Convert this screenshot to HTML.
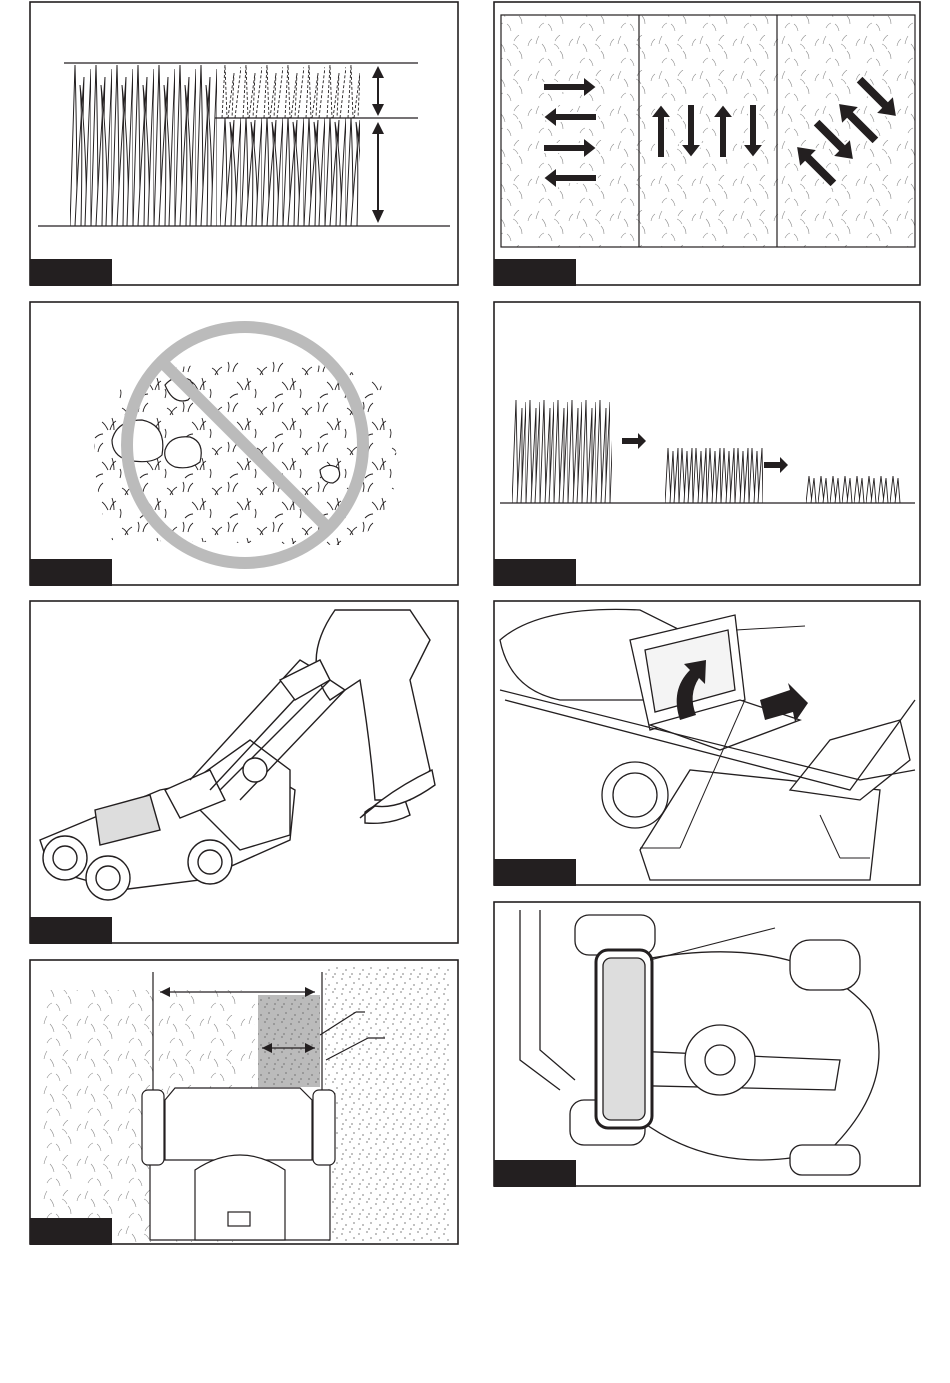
<!DOCTYPE html>
<html><head><meta charset="utf-8"><style>
html,body{margin:0;padding:0;background:#fff;width:950px;height:1383px;overflow:hidden}
svg{display:block}
</style></head><body>
<svg width="950" height="1383" viewBox="0 0 950 1383" xmlns="http://www.w3.org/2000/svg">
<defs>
<pattern id="tall" patternUnits="userSpaceOnUse" x="70" y="65" width="21" height="161">
<g fill="#fff" stroke="#231f20" stroke-width="1">
<path d="M0,161 Q3,70 5,0 Q7,70 7,161z"/>
<path d="M5,161 Q9,80 14,12 Q12,80 12,161z"/>
<path d="M11,161 Q13,60 10,20 Q16,70 17,161z"/>
<path d="M15,161 Q18,70 21,4 Q21,80 21,161z"/>
</g></pattern>
<pattern id="short" patternUnits="userSpaceOnUse" x="220" y="118" width="21" height="108">
<g fill="#fff" stroke="#231f20" stroke-width="1">
<path d="M0,108 Q3,40 5,0 Q7,40 7,108z"/>
<path d="M5,108 Q9,50 14,2 Q12,50 12,108z"/>
<path d="M11,108 Q13,40 10,4 Q16,40 17,108z"/>
<path d="M15,108 Q18,40 21,0 Q21,50 21,108z"/>
</g></pattern>
<pattern id="tips" patternUnits="userSpaceOnUse" x="220" y="65" width="21" height="53">
<g fill="none" stroke="#231f20" stroke-width="0.9" stroke-dasharray="3,2">
<path d="M2,53 L5,0 L7,53"/><path d="M8,53 L14,8 L12,53"/><path d="M15,53 L21,2"/>
</g></pattern>
<pattern id="g4a" patternUnits="userSpaceOnUse" x="512" y="400" width="14" height="103">
<g fill="#fff" stroke="#231f20" stroke-width="0.9">
<path d="M0,103 L4,0 L6,103z"/><path d="M5,103 L10,8 L10,103z"/><path d="M9,103 L14,2 L14,103z"/>
</g></pattern>
<pattern id="g4b" patternUnits="userSpaceOnUse" x="665" y="448" width="14" height="55">
<g fill="#fff" stroke="#231f20" stroke-width="0.9">
<path d="M0,55 L3,0 L6,55z"/><path d="M5,55 L8,3 L10,55z"/><path d="M9,55 L13,0 L14,55z"/>
</g></pattern>
<pattern id="g4c" patternUnits="userSpaceOnUse" x="806" y="476" width="12" height="27">
<g fill="#fff" stroke="#231f20" stroke-width="0.9">
<path d="M0,27 L3,0 L6,27z"/><path d="M5,27 L8,2 L10,27z"/>
</g></pattern>
<pattern id="tex" patternUnits="userSpaceOnUse" width="41" height="35">
<g stroke="#8a8a8a" stroke-width="0.6" fill="none">
<path d="M3,9 q1,-5 3,-8 M13,17 q-1,-5 -4,-8 M22,6 q2,-4 5,-6 M30,24 q0,-5 -3,-8 M6,28 q2,-4 5,-5 M19,31 q-1,-5 -4,-7 M36,11 q1,-5 4,-7 M26,14 q-2,-4 -5,-5"/>
</g></pattern>
<pattern id="tex3" patternUnits="userSpaceOnUse" width="45" height="40">
<g stroke="#231f20" stroke-width="0.9" fill="none">
<path d="M3,12 q2,-6 0,-10 M8,12 q1,-6 5,-9 M18,30 q-3,-6 -6,-8 M20,30 q2,-7 6,-9 M24,30 q0,-6 -2,-12 M35,15 q3,-6 7,-8 M38,15 q-2,-5 -6,-7 M5,38 q4,-4 8,-4 M30,38 q2,-6 0,-9"/>
</g></pattern>
<pattern id="dots" patternUnits="userSpaceOnUse" width="17" height="15">
<g stroke="#666" stroke-width="0.8"><path d="M2,3 v2 M10,1 v2 M6,9 v2 M14,7 v2 M3,13 v2 M12,13 v2"/></g>
</pattern>
</defs>
<!-- panel1 -->
<rect x="70" y="65" width="147" height="161" fill="url(#tall)"/>
<rect x="220" y="118" width="140" height="108" fill="url(#short)"/>
<rect x="220" y="65" width="140" height="53" fill="url(#tips)"/>
<g stroke="#231f20" stroke-width="1.2">
<line x1="64" y1="63" x2="418" y2="63"/>
<line x1="215" y1="118" x2="418" y2="118"/>
<line x1="38" y1="226" x2="450" y2="226"/>
<line x1="378" y1="70" x2="378" y2="110" stroke-width="2"/>
<line x1="378" y1="126" x2="378" y2="218" stroke-width="2"/>
</g>
<g fill="#231f20">
<polygon points="372,78 384,78 378,66"/><polygon points="372,104 384,104 378,116"/>
<polygon points="372,134 384,134 378,122"/><polygon points="372,210 384,210 378,223"/>
</g>
<!-- panel2 -->
<rect x="501" y="15" width="414" height="232" fill="url(#tex)" stroke="#231f20" stroke-width="1.2"/>
<line x1="639" y1="15" x2="639" y2="247" stroke="#231f20" stroke-width="1.2"/>
<line x1="777" y1="15" x2="777" y2="247" stroke="#231f20" stroke-width="1.2"/>
<g fill="#231f20" stroke="#fff" stroke-width="2">
<path d="M543,83h40v-7l14,11-14,11v-7h-40z"/>
<path d="M597,113h-40v-7l-14,11 14,11v-7h40z"/>
<path d="M543,144h40v-7l14,11-14,11v-7h-40z"/>
<path d="M597,174h-40v-7l-14,11 14,11v-7h40z"/>
<path d="M657,158v-40h-7l11,-14 11,14h-7v40z"/>
<path d="M687,104v40h-7l11,14 11,-14h-7v-40z"/>
<path d="M719,158v-40h-7l11,-14 11,14h-7v40z"/>
<path d="M749,104v40h-7l11,14 11,-14h-7v-40z"/>
<path transform="translate(815,165) rotate(225)" d="M-27,-5h36v-8l18,13-18,13v-8h-36z"/>
<path transform="translate(835,141) rotate(45)" d="M-27,-5h36v-8l18,13-18,13v-8h-36z"/>
<path transform="translate(857,122) rotate(225)" d="M-27,-5h36v-8l18,13-18,13v-8h-36z"/>
<path transform="translate(878,98) rotate(45)" d="M-27,-5h36v-8l18,13-18,13v-8h-36z"/>
</g>
<!-- panel3 -->
<path d="M95,420 Q120,370 200,365 Q280,350 380,380 L400,470 Q380,540 340,545 L110,540 Q90,480 95,420z" fill="url(#tex3)"/>
<g fill="#fff" stroke="#231f20" stroke-width="1.2">
<path d="M112,440 q5,-20 30,-20 q25,5 20,35 q-10,10 -35,5 q-15,-5 -15,-20z"/>
<path d="M165,450 q5,-15 25,-13 q15,5 10,25 q-10,8 -25,5 q-12,-5 -10,-17z"/>
<path d="M165,385 q10,-12 25,-5 q8,10 -2,20 q-15,5 -23,-15z"/>
<path d="M320,470 q8,-8 18,-2 q5,10 -5,15 q-12,0 -13,-13z"/>
</g>
<circle cx="245" cy="445" r="118" fill="none" stroke="#bbb" stroke-width="12"/>
<line x1="162" y1="362" x2="328" y2="528" stroke="#bbb" stroke-width="12"/>
<!-- panel4 -->
<rect x="512" y="400" width="100" height="103" fill="url(#g4a)"/>
<rect x="665" y="448" width="98" height="55" fill="url(#g4b)"/>
<rect x="806" y="476" width="96" height="27" fill="url(#g4c)"/>
<line x1="500" y1="503" x2="915" y2="503" stroke="#231f20" stroke-width="1.2"/>
<g fill="#231f20">
<path d="M622,438h16v-5l8,8-8,8v-5h-16z"/>
<path d="M764,462h16v-5l8,8-8,8v-5h-16z"/>
</g>
<!-- panel5 mower -->
<g stroke="#231f20" stroke-width="1.4" fill="#fff">
<path d="M335,610 Q300,660 330,700 L360,680 Q370,740 375,800 L410,800 L430,770 L410,680 L430,640 L410,610z"/>
<path d="M365,812 Q380,800 405,800 L410,815 Q390,825 365,823z"/>
<path d="M360,818 Q390,790 432,770 L435,785 Q400,810 375,806z"/>
<path d="M40,840 L160,790 L260,770 L295,790 L290,840 L200,880 L120,890 L50,870z"/>
<path d="M180,790 L250,740 L290,770 L290,835 L240,850z"/>
<path d="M95,810 L150,795 L160,830 L100,845z" fill="#ddd"/>
<path d="M165,790 L210,770 L225,800 L180,818z"/>
<path d="M190,780 L300,660 L320,672 L210,790" fill="none"/>
<path d="M220,790 L330,680 L345,690 L240,800" fill="none"/>
<path d="M280,680 L320,660 L330,680 L295,700z"/>
<circle cx="65" cy="858" r="22"/><circle cx="65" cy="858" r="12"/>
<circle cx="108" cy="878" r="22"/><circle cx="108" cy="878" r="12"/>
<circle cx="210" cy="862" r="22"/><circle cx="210" cy="862" r="12"/>
<circle cx="255" cy="770" r="12"/>
</g>
<!-- panel6 -->
<g stroke="#231f20" stroke-width="1.3" fill="#fff">
<path d="M500,640 Q540,605 640,610 L700,640 L680,700 L560,700 Q510,690 500,640z"/>
<path d="M640,850 L690,770 L880,790 L870,880 L650,880z"/>
<path d="M630,640 L735,615 L745,700 L650,730z"/>
<path d="M645,650 L728,630 L735,690 L655,712z" fill="#f4f4f4"/>
<path d="M650,725 L740,700 L800,720 L720,750z"/>
<path d="M790,790 L830,740 L900,720 L910,760 L860,800z"/>
<circle cx="635" cy="795" r="33"/><circle cx="635" cy="795" r="22"/>
<path d="M500,690 L860,780 L915,770" fill="none"/>
<path d="M505,700 L850,790 L915,700" fill="none"/>
</g>
<g fill="#231f20">
<path d="M680,720 Q670,690 690,670 L684,664 L706,660 L705,684 L699,678 Q688,695 696,715z"/>
<path d="M760,700 L790,690 L788,683 L808,703 L795,722 L793,712 L765,720z"/>
</g>
<g stroke="#231f20" stroke-width="1" fill="none">
<line x1="736" y1="630" x2="805" y2="626"/>
<line x1="744" y1="702" x2="680" y2="848"/><line x1="640" y1="848" x2="680" y2="848"/>
<line x1="820" y1="815" x2="840" y2="858"/><line x1="840" y1="858" x2="870" y2="858"/>
</g>
<!-- panel7 -->
<rect x="40" y="990" width="215" height="252" fill="url(#tex)"/>
<rect x="325" y="965" width="125" height="277" fill="url(#dots)"/>
<rect x="258" y="995" width="62" height="92" fill="#bbb"/>
<rect x="258" y="995" width="62" height="92" fill="url(#dots)"/>
<g stroke="#231f20" stroke-width="1.2" fill="#fff">
<line x1="153" y1="972" x2="153" y2="1240"/>
<line x1="322" y1="972" x2="322" y2="1100"/>
<line x1="160" y1="992" x2="315" y2="992"/>
<line x1="262" y1="1048" x2="315" y2="1048"/>
<line x1="320" y1="1035" x2="356" y2="1012"/><line x1="356" y1="1012" x2="365" y2="1012"/>
<line x1="326" y1="1060" x2="368" y2="1038"/><line x1="368" y1="1038" x2="385" y2="1038"/>
<path d="M150,1240 L150,1150 Q240,1100 330,1150 L330,1240z"/>
<path d="M165,1100 L175,1088 L300,1088 L312,1100 L312,1160 L165,1160z"/>
<path d="M195,1240 L195,1170 Q240,1140 285,1170 L285,1240z"/>
<rect x="228" y="1212" width="22" height="14"/>
<rect x="142" y="1090" width="22" height="75" rx="6"/>
<rect x="313" y="1090" width="22" height="75" rx="6"/>
</g>
<g fill="#231f20">
<polygon points="160,992 170,987 170,997"/><polygon points="315,992 305,987 305,997"/>
<polygon points="262,1048 272,1043 272,1053"/><polygon points="315,1048 305,1043 305,1053"/>
</g>
<!-- panel8 -->
<g stroke="#231f20" stroke-width="1.3" fill="#fff">
<path d="M640,960 Q800,930 870,1010 Q900,1080 830,1150 Q720,1180 640,1120z"/>
<path d="M610,1050 L840,1060 L835,1090 L610,1085z"/>
<circle cx="720" cy="1060" r="35"/><circle cx="720" cy="1060" r="15"/>
<rect x="790" y="940" width="70" height="50" rx="20"/>
<rect x="790" y="1145" width="70" height="30" rx="12"/>
<rect x="575" y="915" width="80" height="40" rx="14"/>
<rect x="570" y="1100" width="75" height="45" rx="14"/>
<rect x="596" y="950" width="56" height="178" rx="12" stroke-width="3"/>
<rect x="603" y="958" width="42" height="162" rx="8" fill="#ddd"/>
<path d="M520,910 L520,1060 L560,1090" fill="none"/>
<path d="M540,910 L540,1050 L575,1080" fill="none"/>
<line x1="650" y1="960" x2="775" y2="928" stroke-width="1"/>
</g>
<!-- frames and labels on top -->
<g fill="none" stroke="#231f20" stroke-width="1.6">
<rect x="30" y="2" width="428" height="283"/>
<rect x="494" y="2" width="426" height="283"/>
<rect x="30" y="302" width="428" height="283"/>
<rect x="494" y="302" width="426" height="283"/>
<rect x="30" y="601" width="428" height="342"/>
<rect x="494" y="601" width="426" height="284"/>
<rect x="30" y="960" width="428" height="284"/>
<rect x="494" y="902" width="426" height="284"/>
</g>
<g fill="#231f20">
<rect x="30" y="259" width="82" height="27"/>
<rect x="494" y="259" width="82" height="27"/>
<rect x="30" y="559" width="82" height="27"/>
<rect x="494" y="559" width="82" height="27"/>
<rect x="30" y="917" width="82" height="27"/>
<rect x="494" y="859" width="82" height="27"/>
<rect x="30" y="1218" width="82" height="27"/>
<rect x="494" y="1160" width="82" height="27"/>
</g>
</svg>
</body></html>
